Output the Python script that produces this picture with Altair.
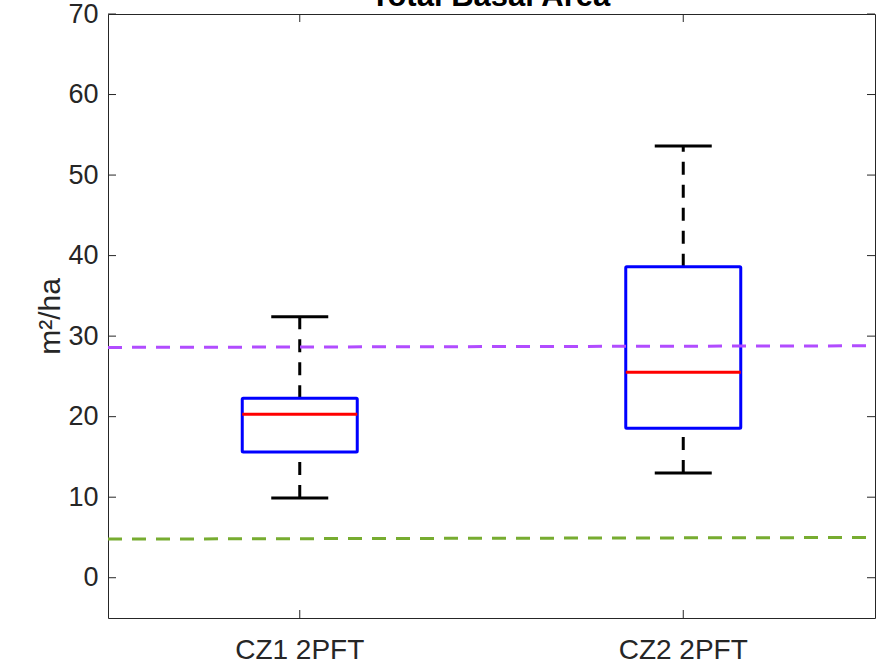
import altair as alt
import pandas as pd

# ---- data ----
categories = ["CZ1 2PFT", "CZ2 2PFT"]
lower_whisker = [9.9, 13.0]
q1 = [15.6, 18.55]
median = [20.3, 25.5]
q3 = [22.3, 38.6]
upper_whisker = [32.4, 53.6]

ref_names = ["purple", "green"]
ref_left = [28.6, 4.8]
ref_right = [28.8, 5.0]
ref_colors = ["#B14CFF", "#77AC30"]

y_ticks = [0, 10, 20, 30, 40, 50, 60, 70]
title_text = ["Total Basal Area"]

W, H = 767, 604
FONT = "Liberation Sans"
AX = "#262626"

box_df = pd.DataFrame({
    "cat": categories, "lo": lower_whisker, "q1": q1, "med": median,
    "q3": q3, "hi": upper_whisker,
})
ref_df = pd.DataFrame({"name": ref_names, "left": ref_left, "right": ref_right,
                       "color": ref_colors})
ytick_df = pd.DataFrame({"v": y_ticks})
xtick_df = pd.DataFrame({"cat": categories})
title_df = pd.DataFrame({"t": title_text})

xscale = alt.Scale(domain=categories, paddingInner=0, paddingOuter=0)
yscale = alt.Scale(domain=[-5, 70], nice=False, zero=False)

x_enc = alt.X("cat:N", scale=xscale,
              axis=alt.Axis(title=None, labelAngle=0, tickSize=0, domain=False,
                            grid=False, labelFontSize=28, labelFont=FONT,
                            labelColor=AX, labelPadding=18))
y_axis = alt.Axis(values=y_ticks, tickSize=0, domain=False, grid=False,
                  labelFontSize=27, labelFont=FONT, labelColor=AX, labelPadding=10,
                  title="m²/ha", titleFontSize=30, titleFont=FONT,
                  titleFontWeight="normal", titleColor=AX, titlePadding=2)

base = alt.Chart(box_df)

upper_w = base.mark_rule(color="black", strokeWidth=3, strokeDash=[13, 10]).encode(
    x=x_enc, y=alt.Y("q3:Q", scale=yscale, axis=y_axis), y2="hi:Q")
lower_w = base.mark_rule(color="black", strokeWidth=3, strokeDash=[13, 10]).encode(
    x="cat:N", y=alt.Y("lo:Q"), y2="q1:Q")
caps_hi = base.mark_tick(color="black", size=57, thickness=3, opacity=1,
                         orient="horizontal").encode(x="cat:N", y="hi:Q")
caps_lo = base.mark_tick(color="black", size=57, thickness=3, opacity=1,
                         orient="horizontal").encode(x="cat:N", y="lo:Q")
boxes = base.mark_bar(size=115, fillOpacity=0, stroke="#0000FF", strokeWidth=3,
                      strokeOpacity=1, cornerRadius=1).encode(
    x="cat:N", y="q1:Q", y2="q3:Q")
medians = base.mark_tick(color="#FF0000", size=115, thickness=3, opacity=1,
                         orient="horizontal").encode(x="cat:N", y="med:Q")

refs = alt.Chart(ref_df).mark_rule(strokeWidth=3, strokeDash=[14, 10]).encode(
    x=alt.value(0), x2=alt.value(W), y="left:Q", y2="right:Q",
    color=alt.Color("color:N", scale=None, legend=None))

tick_style = dict(color=AX, strokeWidth=1)
yt_left = alt.Chart(ytick_df).mark_rule(**tick_style).encode(
    y="v:Q", x=alt.value(0), x2=alt.value(8))
yt_right = alt.Chart(ytick_df).mark_rule(**tick_style).encode(
    y="v:Q", x=alt.value(W - 8), x2=alt.value(W))
xt_bot = alt.Chart(xtick_df).mark_rule(**tick_style).encode(
    x="cat:N", y=alt.value(H), y2=alt.value(H - 8))
xt_top = alt.Chart(xtick_df).mark_rule(**tick_style).encode(
    x="cat:N", y=alt.value(0), y2=alt.value(8))

title_mark = alt.Chart(title_df).mark_text(
    font=FONT, fontSize=31, fontWeight="bold", color="black",
    align="center", baseline="alphabetic", clip=False).encode(
    text="t:N", x=alt.value(W / 2 - 1), y=alt.value(-8))

chart = alt.layer(
    upper_w, lower_w, caps_hi, caps_lo, boxes, medians, refs,
    yt_left, yt_right, xt_bot, xt_top, title_mark
).properties(
    width=W, height=H,
    autosize=alt.AutoSizeParams(type="none"),
    padding={"left": 108, "top": 14, "right": 7, "bottom": 45},
    background="white",
).configure_view(stroke=AX, strokeWidth=1)

chart.save("out.html", embed_options={"renderer": "svg", "actions": False})
